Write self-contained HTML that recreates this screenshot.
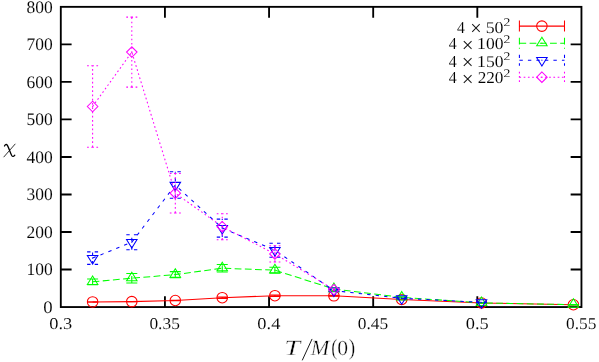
<!DOCTYPE html>
<html><head><meta charset="utf-8"><title>chi vs T/M(0)</title>
<style>
html,body{margin:0;padding:0;background:#fff;}
svg{display:block;font-family:"Liberation Serif",serif;}
.ax rect,.ax path{fill:none;stroke:#000;stroke-width:1.85;}
.r path,.r circle,.g path,.b path,.m path{fill:none;stroke-width:1.05;}
.r path,.r circle{stroke:#f00;}
.g path{stroke:#0f0;} .g .d{fill:#0f0;}
.b path{stroke:#00f;} .b .d{fill:#00f;}
.m path{stroke:#f0f;} .m .d{fill:#f0f;}
.txt{filter:grayscale(1);text-rendering:geometricPrecision;fill:#000;}
</style></head>
<body>
<svg width="599" height="362" viewBox="0 0 599 362">
<rect x="0" y="0" width="599" height="362" fill="#fff"/>
<g class="ax"><rect x="60.8" y="6.85" width="520.65" height="300.2"/><path d="M60.8 269.53h10.8M581.45 269.53h-10.8M60.8 232h10.8M581.45 232h-10.8M60.8 194.48h10.8M581.45 194.48h-10.8M60.8 156.95h10.8M581.45 156.95h-10.8M60.8 119.43h10.8M581.45 119.43h-10.8M60.8 81.9h10.8M581.45 81.9h-10.8M60.8 44.38h10.8M581.45 44.38h-10.8M164.93 307.05v-10.8M164.93 6.85v10.8M269.06 307.05v-10.8M269.06 6.85v10.8M373.19 307.05v-10.8M373.19 6.85v10.8M477.32 307.05v-10.8M477.32 6.85v10.8"/></g>
<g class="txt">
<g class="tl"><text transform="translate(43.35 312.77) scale(0.940 0.881)" font-size="20" stroke="#fff" stroke-width="0.1">0</text><text transform="translate(26.45 275.25) scale(0.875 0.881)" font-size="20" stroke="#fff" stroke-width="0.1">100</text><text transform="translate(26.45 237.72) scale(0.875 0.881)" font-size="20" stroke="#fff" stroke-width="0.1">200</text><text transform="translate(26.45 200.2) scale(0.875 0.881)" font-size="20" stroke="#fff" stroke-width="0.1">300</text><text transform="translate(26.45 162.67) scale(0.875 0.881)" font-size="20" stroke="#fff" stroke-width="0.1">400</text><text transform="translate(26.45 125.15) scale(0.875 0.881)" font-size="20" stroke="#fff" stroke-width="0.1">500</text><text transform="translate(26.45 87.62) scale(0.875 0.881)" font-size="20" stroke="#fff" stroke-width="0.1">600</text><text transform="translate(26.45 50.1) scale(0.875 0.881)" font-size="20" stroke="#fff" stroke-width="0.1">700</text><text transform="translate(26.45 12.57) scale(0.875 0.881)" font-size="20" stroke="#fff" stroke-width="0.1">800</text><text transform="translate(49.3 329.35) scale(0.920 0.824)" font-size="20" stroke="#fff" stroke-width="0.1">0.3</text><text transform="translate(149.44 329.35) scale(0.868 0.824)" font-size="20" stroke="#fff" stroke-width="0.1">0.35</text><text transform="translate(257.33 329.35) scale(0.920 0.824)" font-size="20" stroke="#fff" stroke-width="0.1">0.4</text><text transform="translate(357.7 329.35) scale(0.868 0.824)" font-size="20" stroke="#fff" stroke-width="0.1">0.45</text><text transform="translate(465.82 329.35) scale(0.920 0.824)" font-size="20" stroke="#fff" stroke-width="0.1">0.5</text><text transform="translate(565.96 329.35) scale(0.868 0.824)" font-size="20" stroke="#fff" stroke-width="0.1">0.55</text></g>
<text transform="translate(457.09 32.68) scale(0.785 0.846)" font-size="20" stroke="#fff" stroke-width="0.1">4</text><text transform="translate(470.18 35.13) scale(1.012 1.049)" font-size="20" stroke="#fff" stroke-width="0.1">×</text><text transform="translate(485.63 32.63) scale(0.892 0.830)" font-size="20" stroke="#fff" stroke-width="0.1">50</text><text transform="translate(503.48 26) scale(0.688 0.583)" font-size="20" stroke="#fff" stroke-width="0.1">2</text><text transform="translate(448.78 49.23) scale(0.796 0.846)" font-size="20" stroke="#fff" stroke-width="0.1">4</text><text transform="translate(461.72 51.68) scale(1.049 1.049)" font-size="20" stroke="#fff" stroke-width="0.1">×</text><text transform="translate(477.12 49.18) scale(0.878 0.830)" font-size="20" stroke="#fff" stroke-width="0.1">100</text><text transform="translate(503.48 42.55) scale(0.688 0.583)" font-size="20" stroke="#fff" stroke-width="0.1">2</text><text transform="translate(448.78 66.68) scale(0.796 0.846)" font-size="20" stroke="#fff" stroke-width="0.1">4</text><text transform="translate(461.72 69.13) scale(1.049 1.049)" font-size="20" stroke="#fff" stroke-width="0.1">×</text><text transform="translate(477.12 66.63) scale(0.878 0.830)" font-size="20" stroke="#fff" stroke-width="0.1">150</text><text transform="translate(503.48 60) scale(0.688 0.583)" font-size="20" stroke="#fff" stroke-width="0.1">2</text><text transform="translate(448.78 83.28) scale(0.796 0.846)" font-size="20" stroke="#fff" stroke-width="0.1">4</text><text transform="translate(461.72 85.73) scale(1.049 1.049)" font-size="20" stroke="#fff" stroke-width="0.1">×</text><text transform="translate(477.63 83.23) scale(0.860 0.830)" font-size="20" stroke="#fff" stroke-width="0.1">220</text><text transform="translate(503.48 76.6) scale(0.688 0.583)" font-size="20" stroke="#fff" stroke-width="0.1">2</text>
<text transform="translate(284.34 355) scale(1.427 1.092)" font-size="20" font-style="italic" stroke="#fff" stroke-width="0.35">T</text><text transform="translate(310.72 355) scale(1.118 1.092)" font-size="20" font-style="italic" stroke="#fff" stroke-width="0.35">M</text><text transform="translate(331.17 355.28) scale(0.922 1.172)" font-size="20" stroke="#fff" stroke-width="0.3">(</text><text transform="translate(337.13 355.09) scale(1.083 1.074)" font-size="20" stroke="#fff" stroke-width="0.3">0</text><text transform="translate(348.72 355.28) scale(0.962 1.172)" font-size="20" stroke="#fff" stroke-width="0.3">)</text>
</g>
<g class="r">
<path d="M92.6 302.1V301.7M87.1 301.7H92.6M98.1 301.7H92.6M87.1 302.1H92.6M98.1 302.1H92.6M131.8 301.8V301.4M126.3 301.4H131.8M137.3 301.4H131.8M126.3 301.8H131.8M137.3 301.8H131.8M175.3 300.7V300.3M169.8 300.3H175.3M180.8 300.3H175.3M169.8 300.7H175.3M180.8 300.7H175.3M222.25 298.4V297M216.75 297H222.25M227.75 297H222.25M216.75 298.4H222.25M227.75 298.4H222.25M274.9 296.4V295M269.4 295H274.9M280.4 295H274.9M269.4 296.4H274.9M280.4 296.4H274.9M333.9 296.3V295.3M328.4 295.3H333.9M339.4 295.3H333.9M328.4 296.3H333.9M339.4 296.3H333.9M401.7 299.7V299.3M396.2 299.3H401.7M407.2 299.3H401.7M396.2 299.7H401.7M407.2 299.7H401.7M481.5 303.2V302.8M476 302.8H481.5M487 302.8H481.5M476 303.2H481.5M487 303.2H481.5M573.4 304.85V304.65M567.9 304.65H573.4M578.9 304.65H573.4M567.9 304.85H573.4M578.9 304.85H573.4"/>
<path d="M92.6 301.9L131.8 301.6L175.3 300.5L222.25 297.7L274.9 295.7L333.9 295.8L401.7 299.5L481.5 303L573.4 304.75"/>
<circle cx="92.6" cy="301.9" r="5.25"/>
<circle cx="131.8" cy="301.6" r="5.25"/>
<circle cx="175.3" cy="300.5" r="5.25"/>
<circle cx="222.25" cy="297.7" r="5.25"/>
<circle cx="274.9" cy="295.7" r="5.25"/>
<circle cx="333.9" cy="295.8" r="5.25"/>
<circle cx="401.7" cy="299.5" r="5.25"/>
<circle cx="481.5" cy="303" r="5.25"/>
<circle cx="573.4" cy="304.75" r="5.25"/>
</g>
<g class="g">
<path d="M92.6 284.7V278.9M87.1 278.9H92.6M98.1 278.9H92.6M87.1 284.7H92.6M98.1 284.7H92.6M131.8 282.9V273.5M126.3 273.5H131.8M137.3 273.5H131.8M126.3 282.9H131.8M137.3 282.9H131.8M175.3 277.6V271.6M169.8 271.6H175.3M180.8 271.6H175.3M169.8 277.6H175.3M180.8 277.6H175.3M222.25 272V264.4M216.75 264.4H222.25M227.75 264.4H222.25M216.75 272H222.25M227.75 272H222.25M274.9 273.2V267.2M269.4 267.2H274.9M280.4 267.2H274.9M269.4 273.2H274.9M280.4 273.2H274.9M333.9 290.2V287.8M328.4 287.8H333.9M339.4 287.8H333.9M328.4 290.2H333.9M339.4 290.2H333.9M401.7 297.9V296.7M396.2 296.7H401.7M407.2 296.7H401.7M396.2 297.9H401.7M407.2 297.9H401.7M481.5 303.2V302.6M476 302.6H481.5M487 302.6H481.5M476 303.2H481.5M487 303.2H481.5M573.4 304.9V304.5M567.9 304.5H573.4M578.9 304.5H573.4M567.9 304.9H573.4M578.9 304.9H573.4" stroke-dasharray="6.8 3.4"/>
<path d="M92.6 281.8L131.8 278.2L175.3 274.6L222.25 268.2L274.9 270.2L333.9 289L401.7 297.3L481.5 302.9L573.4 304.7" stroke-dasharray="6.8 3.4"/>
<path d="M92.6 275.92L87.35 284.43L97.85 284.43Z"/><circle class="d" cx="92.6" cy="281.8" r="0.6"/>
<path d="M131.8 272.32L126.55 280.82L137.05 280.82Z"/><circle class="d" cx="131.8" cy="278.2" r="0.6"/>
<path d="M175.3 268.72L170.05 277.23L180.55 277.23Z"/><circle class="d" cx="175.3" cy="274.6" r="0.6"/>
<path d="M222.25 262.32L217 270.82L227.5 270.82Z"/><circle class="d" cx="222.25" cy="268.2" r="0.6"/>
<path d="M274.9 264.32L269.65 272.82L280.15 272.82Z"/><circle class="d" cx="274.9" cy="270.2" r="0.6"/>
<path d="M333.9 283.12L328.65 291.62L339.15 291.62Z"/><circle class="d" cx="333.9" cy="289" r="0.6"/>
<path d="M401.7 291.42L396.45 299.93L406.95 299.93Z"/><circle class="d" cx="401.7" cy="297.3" r="0.6"/>
<path d="M481.5 297.02L476.25 305.52L486.75 305.52Z"/><circle class="d" cx="481.5" cy="302.9" r="0.6"/>
<path d="M573.4 298.82L568.15 307.32L578.65 307.32Z"/><circle class="d" cx="573.4" cy="304.7" r="0.6"/>
</g>
<g class="b">
<path d="M92.6 264.35V251.85M87.1 251.85H92.6M98.1 251.85H92.6M87.1 264.35H92.6M98.1 264.35H92.6M131.8 249.7V234.7M126.3 234.7H131.8M137.3 234.7H131.8M126.3 249.7H131.8M137.3 249.7H131.8M175.3 198.25V171.75M169.8 171.75H175.3M180.8 171.75H175.3M169.8 198.25H175.3M180.8 198.25H175.3M222.25 237.1V219.1M216.75 219.1H222.25M227.75 219.1H222.25M216.75 237.1H222.25M227.75 237.1H222.25M274.9 257.2V243.2M269.4 243.2H274.9M280.4 243.2H274.9M269.4 257.2H274.9M280.4 257.2H274.9M333.9 291.8V289.4M328.4 289.4H333.9M339.4 289.4H333.9M328.4 291.8H333.9M339.4 291.8H333.9M401.7 298.9V297.7M396.2 297.7H401.7M407.2 297.7H401.7M396.2 298.9H401.7M407.2 298.9H401.7M481.5 302.7V301.9M476 301.9H481.5M487 301.9H481.5M476 302.7H481.5M487 302.7H481.5" stroke-dasharray="3.4 5.1"/>
<path d="M92.6 258.1L131.8 242.2L175.3 185L222.25 228.1L274.9 250.2L333.9 290.6L401.7 298.3L481.5 302.3" stroke-dasharray="3.4 5.1"/>
<path d="M92.6 263.98L87.35 255.48L97.85 255.48Z"/><circle class="d" cx="92.6" cy="258.1" r="0.6"/>
<path d="M131.8 248.08L126.55 239.57L137.05 239.57Z"/><circle class="d" cx="131.8" cy="242.2" r="0.6"/>
<path d="M175.3 190.88L170.05 182.38L180.55 182.38Z"/><circle class="d" cx="175.3" cy="185" r="0.6"/>
<path d="M222.25 233.98L217 225.47L227.5 225.47Z"/><circle class="d" cx="222.25" cy="228.1" r="0.6"/>
<path d="M274.9 256.08L269.65 247.57L280.15 247.57Z"/><circle class="d" cx="274.9" cy="250.2" r="0.6"/>
<path d="M333.9 296.48L328.65 287.98L339.15 287.98Z"/><circle class="d" cx="333.9" cy="290.6" r="0.6"/>
<path d="M401.7 304.18L396.45 295.68L406.95 295.68Z"/><circle class="d" cx="401.7" cy="298.3" r="0.6"/>
<path d="M481.5 308.18L476.25 299.68L486.75 299.68Z"/><circle class="d" cx="481.5" cy="302.3" r="0.6"/>
</g>
<g class="m">
<path d="M92.6 147.3V65.7M87.1 65.7H92.6M98.1 65.7H92.6M87.1 147.3H92.6M98.1 147.3H92.6M131.8 87.1V17.1M126.3 17.1H131.8M137.3 17.1H131.8M126.3 87.1H131.8M137.3 87.1H131.8M175.3 212.9V173.5M169.8 173.5H175.3M180.8 173.5H175.3M169.8 212.9H175.3M180.8 212.9H175.3M222.25 239.7V213.7M216.75 213.7H222.25M227.75 213.7H222.25M216.75 239.7H222.25M227.75 239.7H222.25M274.9 262V245.8M269.4 245.8H274.9M280.4 245.8H274.9M269.4 262H274.9M280.4 262H274.9M333.9 290.8V288.4M328.4 288.4H333.9M339.4 288.4H333.9M328.4 290.8H333.9M339.4 290.8H333.9" stroke-dasharray="1.7 2.55"/>
<path d="M92.6 106.5L131.8 52.1L175.3 193.2L222.25 226.7L274.9 253.9L333.9 289.6" stroke-dasharray="1.7 2.55"/>
<path d="M92.6 101.25L87.35 106.5L92.6 111.75L97.85 106.5Z"/><circle class="d" cx="92.6" cy="106.5" r="0.6"/>
<path d="M131.8 46.85L126.55 52.1L131.8 57.35L137.05 52.1Z"/><circle class="d" cx="131.8" cy="52.1" r="0.6"/>
<path d="M175.3 187.95L170.05 193.2L175.3 198.45L180.55 193.2Z"/><circle class="d" cx="175.3" cy="193.2" r="0.6"/>
<path d="M222.25 221.45L217 226.7L222.25 231.95L227.5 226.7Z"/><circle class="d" cx="222.25" cy="226.7" r="0.6"/>
<path d="M274.9 248.65L269.65 253.9L274.9 259.15L280.15 253.9Z"/><circle class="d" cx="274.9" cy="253.9" r="0.6"/>
<path d="M333.9 284.35L328.65 289.6L333.9 294.85L339.15 289.6Z"/><circle class="d" cx="333.9" cy="289.6" r="0.6"/>
</g>
<g class="r"><path d="M519.4 26.1H564.5M519.4 20.6V31.6M564.5 20.6V31.6"/><circle cx="541.9" cy="26.1" r="5.25"/></g><g class="g"><path d="M519.4 43.15H564.5M519.4 37.65V48.65M564.5 37.65V48.65" stroke-dasharray="6.8 3.4"/><path d="M541.9 37.27L536.65 45.77L547.15 45.77Z"/><circle class="d" cx="541.9" cy="43.15" r="0.6"/></g><g class="b"><path d="M519.4 60.2H564.5M519.4 54.7V65.7M564.5 54.7V65.7" stroke-dasharray="3.4 5.1"/><path d="M541.9 66.08L536.65 57.58L547.15 57.58Z"/><circle class="d" cx="541.9" cy="60.2" r="0.6"/></g><g class="m"><path d="M519.4 77.2H564.5M519.4 71.7V82.7M564.5 71.7V82.7" stroke-dasharray="1.7 2.55"/><path d="M541.9 71.95L536.65 77.2L541.9 82.45L547.15 77.2Z"/><circle class="d" cx="541.9" cy="77.2" r="0.6"/></g>
<g fill="none" stroke="#000" stroke-linecap="round"><path d="M15.1 144.1L3.9 156.9" stroke-width="0.8"/><path d="M4.5 146C5 144.6 6.3 143.9 7.3 145.1C8.3 146.6 10.8 153.8 11.7 155.5C12.6 157 13.9 156.6 14.8 155.2" stroke-width="1.3"/><path d="M302.4 360L311.9 339.3" stroke-width="0.9"/></g>
</svg>
</body></html>
